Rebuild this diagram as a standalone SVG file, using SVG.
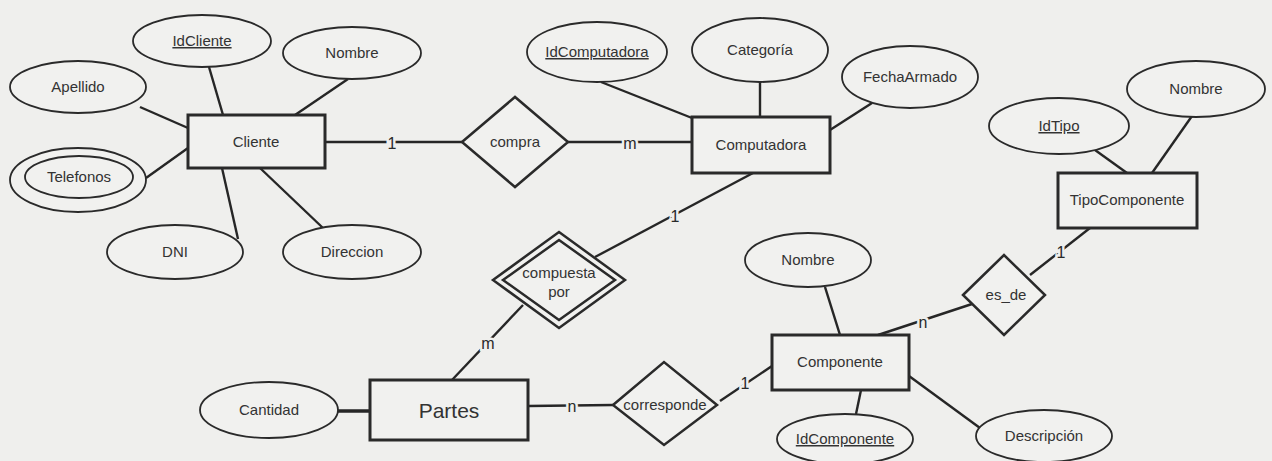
<svg xmlns="http://www.w3.org/2000/svg" width="1272" height="461" viewBox="0 0 1272 461">
<style>
.bg{fill:#efefed}
.ent{fill:#f1f1ef;stroke:#2a2a2a;stroke-width:3}
.att{fill:#f1f1ef;stroke:#2a2a2a;stroke-width:1.8}
.rel{fill:#f1f1ef;stroke:#2a2a2a;stroke-width:2.5}
.ln{stroke:#262626;stroke-width:2.4;fill:none}
.t{font-family:"Liberation Sans",Arial,sans-serif;font-size:15px;fill:#333;text-anchor:middle}
.key{text-decoration:underline}
.big{font-size:21px}
.card{font-family:"Liberation Sans",Arial,sans-serif;font-size:16px;fill:#2a2a2a;text-anchor:middle;stroke:#efefed;stroke-width:5;paint-order:stroke}
</style>
<rect class="bg" x="0" y="0" width="1272" height="461"/>
<g id="connectors">
<line class="ln" x1="140" y1="107" x2="188" y2="128"/>
<line class="ln" x1="209" y1="67" x2="223" y2="115"/>
<line class="ln" x1="348" y1="79" x2="295" y2="115"/>
<line class="ln" x1="146" y1="178" x2="188" y2="148"/>
<line class="ln" x1="222" y1="168" x2="238" y2="239"/>
<line class="ln" x1="260" y1="168" x2="323" y2="228"/>
<line class="ln" x1="325" y1="142" x2="462" y2="142"/>
<line class="ln" x1="568" y1="142" x2="692" y2="142"/>
<line class="ln" x1="601" y1="82" x2="692" y2="118"/>
<line class="ln" x1="760" y1="82" x2="760" y2="117"/>
<line class="ln" x1="872" y1="103" x2="830" y2="130"/>
<line class="ln" x1="1095" y1="150" x2="1127" y2="173"/>
<line class="ln" x1="1192" y1="116" x2="1152" y2="173"/>
<line class="ln" x1="1030" y1="275" x2="1090" y2="228"/>
<line class="ln" x1="972" y1="304" x2="878" y2="335"/>
<line class="ln" x1="825" y1="287" x2="840" y2="335"/>
<line class="ln" x1="861" y1="390" x2="856" y2="414"/>
<line class="ln" x1="909" y1="376" x2="980" y2="428"/>
<line class="ln" x1="720" y1="401" x2="772" y2="366"/>
<line class="ln" x1="528" y1="406" x2="613" y2="405"/>
<line class="ln" x1="338" y1="411" x2="370" y2="411" style="stroke-width:3.5"/>
<line class="ln" x1="523" y1="305" x2="452" y2="380"/>
<line class="ln" x1="595" y1="257" x2="753" y2="173"/>
<text class="card" x="392" y="149">1</text>
<text class="card" x="630" y="149">m</text>
<text class="card" x="675" y="222">1</text>
<text class="card" x="488" y="349">m</text>
<text class="card" x="572" y="412">n</text>
<text class="card" x="745" y="389">1</text>
<text class="card" x="923" y="328">n</text>
<text class="card" x="1061" y="258">1</text>
</g>
<g id="Cliente"><rect class="ent" x="188" y="115" width="137" height="53"/><text class="t" x="256" y="147">Cliente</text></g>
<g id="IdCliente"><ellipse class="att" cx="202" cy="41" rx="69" ry="26"/><text class="t key" x="202" y="46">IdCliente</text></g>
<g id="NombreCliente"><ellipse class="att" cx="352" cy="53" rx="69" ry="26"/><text class="t" x="352" y="58">Nombre</text></g>
<g id="Apellido"><ellipse class="att" cx="78" cy="87" rx="68" ry="26"/><text class="t" x="78" y="92">Apellido</text></g>
<g id="Telefonos"><ellipse class="att" cx="78" cy="180" rx="68" ry="32"/><ellipse class="att" cx="79" cy="177" rx="54" ry="21"/><text class="t" x="79" y="182">Telefonos</text></g>
<g id="DNI"><ellipse class="att" cx="175" cy="252" rx="68" ry="27"/><text class="t" x="175" y="257">DNI</text></g>
<g id="Direccion"><ellipse class="att" cx="352" cy="252" rx="69" ry="27"/><text class="t" x="352" y="257">Direccion</text></g>
<g id="compra"><polygon class="rel" points="462,142 515,97 568,142 515,187"/><text class="t" x="515" y="147">compra</text></g>
<g id="Computadora"><rect class="ent" x="692" y="117" width="138" height="56"/><text class="t" x="761" y="150">Computadora</text></g>
<g id="IdComputadora"><ellipse class="att" cx="597" cy="52" rx="70" ry="30"/><text class="t key" x="597" y="57">IdComputadora</text></g>
<g id="Categoria"><ellipse class="att" cx="760" cy="50" rx="68" ry="32"/><text class="t" x="760" y="55">Categoría</text></g>
<g id="FechaArmado"><ellipse class="att" cx="910" cy="77" rx="68" ry="31"/><text class="t" x="910" y="82">FechaArmado</text></g>
<g id="TipoComponente"><rect class="ent" x="1058" y="173" width="139" height="55"/><text class="t" x="1127" y="205">TipoComponente</text></g>
<g id="IdTipo"><ellipse class="att" cx="1059" cy="126" rx="70" ry="28"/><text class="t key" x="1059" y="131">IdTipo</text></g>
<g id="NombreTipo"><ellipse class="att" cx="1196" cy="89" rx="69" ry="28"/><text class="t" x="1196" y="94">Nombre</text></g>
<g id="es_de"><polygon class="rel" points="963,295 1004,255 1045,295 1004,335"/><text class="t" x="1006" y="300">es_de</text></g>
<g id="Componente"><rect class="ent" x="772" y="335" width="137" height="55"/><text class="t" x="840" y="367">Componente</text></g>
<g id="NombreComponente"><ellipse class="att" cx="808" cy="260" rx="63" ry="27"/><text class="t" x="808" y="265">Nombre</text></g>
<g id="IdComponente"><ellipse class="att" cx="845" cy="439" rx="68" ry="25"/><text class="t key" x="845" y="444">IdComponente</text></g>
<g id="Descripcion"><ellipse class="att" cx="1044" cy="436" rx="68" ry="26"/><text class="t" x="1044" y="441">Descripción</text></g>
<g id="corresponde"><polygon class="rel" points="613,405 664,362 717,405 664,445"/><text class="t" x="665" y="410">corresponde</text></g>
<g id="compuesta_por"><polygon class="rel" points="493,280 559,232 625,280 559,328"/><polygon class="rel" points="503,280 559,240 615,280 559,320"/><text class="t" x="559" y="278">compuesta</text><text class="t" x="559" y="297">por</text></g>
<g id="Partes"><rect class="ent" x="370" y="380" width="158" height="60"/><text class="t big" x="449" y="418">Partes</text></g>
<g id="Cantidad"><ellipse class="att" cx="269" cy="410" rx="69" ry="28"/><text class="t" x="269" y="415">Cantidad</text></g>
</svg>
